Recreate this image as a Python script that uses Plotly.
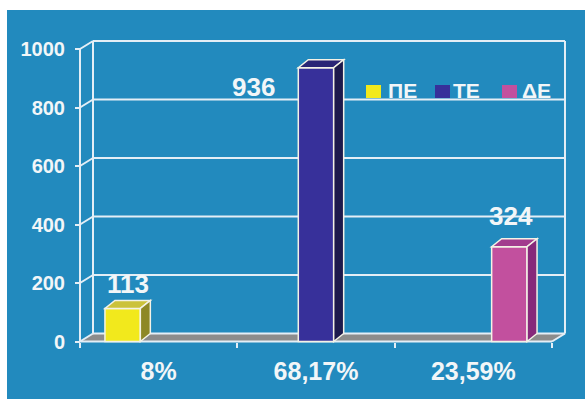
import plotly.graph_objects as go

# ---------------- data ----------------
categories = ["8%", "68,17%", "23,59%"]
series = ["ΠΕ", "ΤΕ", "ΔΕ"]
values = [113, 936, 324]
y_ticks = [0, 200, 400, 600, 800, 1000]

# ---------------- style ----------------
front_colors = ["#f2e91c", "#37309a", "#c2509e"]
top_colors = ["#cbc23a", "#2a2576", "#a23c8e"]
side_colors = ["#8e8826", "#1d1a4c", "#87297b"]
BG = "#228abe"
GRID = "#e4eef6"
FLOOR = "#8c8c8c"
TXT = "#f2f6f8"
FONT = "Liberation Sans, Arial, sans-serif"

W, H = 585, 399
L, R, T, B = 77, 17, 36, 55
PW, PH = W - L - R, H - T - B
X_LEFT_PX = 80.0      # pixel of x = -0.5 (front plane)
X_UNIT_PX = 157.33    # pixels per category
Y_ZERO_PX = 341.5     # pixel of y = 0 (front plane)
Y_UNIT_PX = 0.2925    # pixels per value unit

xr0 = -0.5 - (X_LEFT_PX - L) / X_UNIT_PX
xr1 = xr0 + PW / X_UNIT_PX
yr0 = -(H - B - Y_ZERO_PX) / Y_UNIT_PX
yr1 = yr0 + PH / Y_UNIT_PX


def dxu(px):
    return px / X_UNIT_PX


def dyu(px):
    return px / Y_UNIT_PX


def paper_x(px):
    return (px - L) / PW


def paper_y(py):
    return (H - B - py) / PH


WALL_DX, WALL_DY = dxu(13), dyu(8)
BAR_DX, BAR_DY = dxu(10), dyu(8)
BAR_W = 0.225
BAR_STEP = 0.229
n = len(series)
xmin, xmax = -0.5, len(categories) - 0.5
ymax = max(y_ticks)

fig = go.Figure()
shapes = []

# background (white border strip top/left, blue panel)
shapes.append(dict(type="rect", xref="paper", yref="paper",
                   x0=paper_x(7), x1=paper_x(W + 5), y0=paper_y(10), y1=paper_y(H + 5),
                   fillcolor=BG, line=dict(width=0), layer="below"))

# floor
shapes.append(dict(type="path", xref="x", yref="y", layer="below",
                   path=f"M{xmin},0 L{xmax},0 L{xmax + WALL_DX},{WALL_DY} L{xmin + WALL_DX},{WALL_DY} Z",
                   fillcolor=FLOOR, line=dict(width=0)))
# back wall grid lines
for v in y_ticks:
    shapes.append(dict(type="line", xref="x", yref="y", layer="below",
                       x0=xmin + WALL_DX, x1=xmax + WALL_DX, y0=v + WALL_DY, y1=v + WALL_DY,
                       line=dict(color=GRID, width=2)))
    # connectors from front axis to back wall
    shapes.append(dict(type="line", xref="x", yref="y", layer="below",
                       x0=xmin, x1=xmin + WALL_DX, y0=v, y1=v + WALL_DY,
                       line=dict(color=GRID, width=2)))
# wall verticals
for xv in (xmin + WALL_DX, xmax + WALL_DX):
    shapes.append(dict(type="line", xref="x", yref="y", layer="below",
                       x0=xv, x1=xv, y0=WALL_DY, y1=ymax + WALL_DY,
                       line=dict(color=GRID, width=2)))
# front axes
shapes.append(dict(type="line", xref="x", yref="y", layer="below",
                   x0=xmin, x1=xmin, y0=0, y1=ymax, line=dict(color=GRID, width=2)))
shapes.append(dict(type="line", xref="x", yref="y", layer="below",
                   x0=xmin, x1=xmax, y0=0, y1=0, line=dict(color=GRID, width=2)))
shapes.append(dict(type="line", xref="x", yref="y", layer="below",
                   x0=xmax, x1=xmax + WALL_DX, y0=0, y1=WALL_DY, line=dict(color=GRID, width=2)))

annotations = []
label_shift = [(5, 24), (-63, -19), (2, 31)]
for j, (name, v) in enumerate(zip(series, values)):
    off = (j - (n - 1) / 2) * BAR_STEP - BAR_W / 2
    fig.add_trace(go.Bar(
        x=[j], y=[v], name=name, width=[BAR_W], offset=[off],
        marker=dict(color=front_colors[j], line=dict(color="#f4f2e6", width=1.5)),
        hoverinfo="name+y", showlegend=False))
    xl = j + off
    xr = xl + BAR_W
    shapes.append(dict(type="path", xref="x", yref="y", layer="above",
                       path=f"M{xl},{v} L{xr},{v} L{xr + BAR_DX},{v + BAR_DY} L{xl + BAR_DX},{v + BAR_DY} Z",
                       fillcolor=top_colors[j], line=dict(color="#f4f2e6", width=1.5)))
    shapes.append(dict(type="path", xref="x", yref="y", layer="above",
                       path=f"M{xr},0 L{xr},{v} L{xr + BAR_DX},{v + BAR_DY} L{xr + BAR_DX},{BAR_DY} Z",
                       fillcolor=side_colors[j], line=dict(color="#f4f2e6", width=1.5)))
    sx, sy = label_shift[j]
    annotations.append(dict(x=xl + BAR_W / 2, y=v, xref="x", yref="y", text=str(v),
                            showarrow=False, xanchor="center", yanchor="middle",
                            xshift=sx, yshift=sy,
                            font=dict(family=FONT, size=26, color=TXT, weight="bold")))

# manual legend
leg_sq_x = [366, 435, 502]
leg_txt_x = [386, 451, 520]
for j, name in enumerate(series):
    shapes.append(dict(type="rect", xref="paper", yref="paper",
                       x0=paper_x(leg_sq_x[j]), x1=paper_x(leg_sq_x[j] + 15),
                       y0=paper_y(98), y1=paper_y(85),
                       fillcolor=front_colors[j], line=dict(width=0)))
    annotations.append(dict(x=paper_x(leg_txt_x[j]), y=paper_y(90), xref="paper", yref="paper",
                            text=name, showarrow=False, xanchor="left", yanchor="middle",
                            font=dict(family=FONT, size=21, color=TXT, weight="bold")))

fig.update_layout(
    width=W, height=H,
    margin=dict(l=L, r=R, t=T, b=B, pad=0),
    paper_bgcolor="white", plot_bgcolor="rgba(0,0,0,0)",
    shapes=shapes, annotations=annotations,
    showlegend=False,
    xaxis=dict(range=[xr0, xr1], showgrid=False, zeroline=False, showline=False,
               tickvals=list(range(len(categories))), ticktext=categories,
               ticks="outside", ticklen=5, tickcolor="rgba(0,0,0,0)",
               ticklabelstandoff=2,
               minor=dict(tickvals=[i - 0.5 for i in range(len(categories) + 1)],
                          ticks="outside", ticklen=5, tickcolor=GRID, tickwidth=2),
               anchor="free", position=paper_y(Y_ZERO_PX),
               tickfont=dict(family=FONT, size=25, color=TXT, weight="bold"),
               fixedrange=True),
    yaxis=dict(range=[yr0, yr1], showgrid=False, zeroline=False, showline=False,
               tickvals=y_ticks, ticks="outside", ticklen=5, tickcolor=GRID, tickwidth=2,
               ticklabelstandoff=6,
               anchor="free", position=paper_x(X_LEFT_PX),
               tickfont=dict(family=FONT, size=20, color=TXT, weight="bold"),
               fixedrange=True),
)

fig.write_html("out.html")
